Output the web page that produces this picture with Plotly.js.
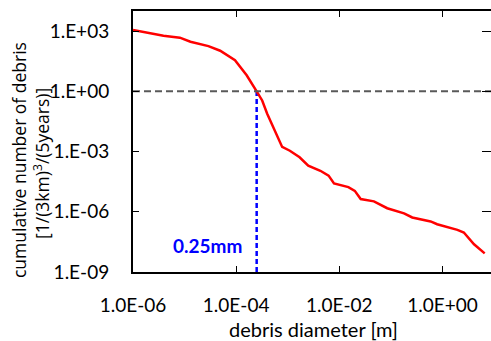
<!DOCTYPE html>
<html>
<head>
<meta charset="utf-8">
<script src="https://cdn.plot.ly/plotly-3.0.1.min.js"></script>
<style>html,body{margin:0;padding:0;overflow:hidden;background:#fff;}</style>
</head>
<body>
<div id="chart" style="width:496px;height:341px;"></div>
<script>
// debris diameter [m]
const diameter = [1.0e-6, 1.7e-6, 3.9e-6, 8.1e-6, 1.3e-5, 2.9e-5, 4.9e-5, 9.5e-5, 1.6e-4, 2.5e-4,
  3.2e-4, 4.0e-4, 6.0e-4, 7.8e-4, 1.1e-3, 1.7e-3, 2.5e-3, 4.3e-3, 6.2e-3, 7.9e-3,
  1.5e-2, 2.0e-2, 2.6e-2, 4.7e-2, 8.5e-2, 0.18, 0.26, 0.59, 0.79, 1.95, 2.6, 4.1, 6.6];
// cumulative number of debris [1/(3km)^3/(5years)]
const cumulative = [1120, 850, 590, 470, 295, 178, 105, 35, 6.3, 1.0,
  0.35, 0.076, 7.6e-3, 1.7e-3, 1.1e-3, 5.2e-4, 2.0e-4, 1.1e-4, 6.3e-5, 2.6e-5,
  1.7e-5, 1.1e-5, 4.3e-6, 3.3e-6, 1.5e-6, 8.3e-7, 5.2e-7, 3.3e-7, 2.4e-7, 1.26e-7, 9.3e-8, 2.4e-8, 8.5e-9];
const thresholdX = [1e-6, 1e1];
const thresholdY = [1, 1];
const markerX = [2.5e-4, 2.5e-4];
const markerY = [1e-9, 1];
const markerLabel = "0.25mm";
const xTickVals = [1e-6, 1e-4, 1e-2, 1e0];
const xTickText = ["1.0E-06", "1.0E-04", "1.0E-02", "1.0E+00"];
const yTickVals = [1e-9, 1e-6, 1e-3, 1e0, 1e3];
const yTickText = ["1.E-09", "1.E-06", "1.E-03", "1.E+00", "1.E+03"];
const yTitleLines = ["cumulative number of debris", "[1/(3km)<sup>3</sup>/(5years)]"];
const xTitle = "debris diameter [m]";

const FONT = "Lato, 'Open Sans', sans-serif";
const TFONT = "'Open Sans', Lato, sans-serif";

const traces = [
  {x: thresholdX, y: thresholdY, yaxis: "y2", mode: "lines", line: {color: "#595959", width: 2, dash: "7px,4px"}, hoverinfo: "skip"},
  {x: markerX, y: markerY, mode: "lines", line: {color: "#0000FF", width: 2.5, dash: "5px,3px"}, hoverinfo: "skip"},
  {x: diameter, y: cumulative, mode: "lines", line: {color: "#FF0000", width: 2.5}}
];

const axisCommon = {
  showline: true, linecolor: "#000", linewidth: 2,
  ticks: "inside", ticklen: 6, tickwidth: 1, tickcolor: "#000",
  showgrid: false, zeroline: false,
  tickfont: {family: FONT, size: 19, color: "#000"}
};

const layout = {
  width: 496, height: 341,
  margin: {l: 133, r: 1.5, t: 11, b: 69},
  paper_bgcolor: "#fff", plot_bgcolor: "#fff",
  showlegend: false,
  font: {family: FONT, color: "#000"},
  xaxis: Object.assign({}, axisCommon, {
    type: "log", range: [-6, 1], mirror: "ticks",
    tickmode: "array", tickvals: xTickVals, ticktext: xTickText,
    ticklabelstandoff: 15,
    title: {text: xTitle, font: {family: FONT, size: 20, color: "#000"}, standoff: 8}
  }),
  yaxis: Object.assign({}, axisCommon, {
    type: "log", range: [-9, 4], mirror: true,
    tickmode: "array", tickvals: yTickVals, ticktext: yTickText,
    ticklabelstandoff: 18
  }),
  yaxis2: {
    type: "log", range: [-9, 4], overlaying: "y", side: "right",
    tickmode: "array", tickvals: yTickVals, showticklabels: false,
    ticks: "inside", ticklen: 12, tickwidth: 1, tickcolor: "#000",
    showline: false, showgrid: false, zeroline: false
  },
  annotations: [
    {
      x: 0, y: 0.429, xref: "paper", yref: "paper", xanchor: "center", yanchor: "middle",
      xshift: -114, textangle: -90, showarrow: false,
      text: yTitleLines[0], font: {family: TFONT, size: 17.5, color: "#000"}
    },
    {
      x: 0, y: 0.414, xref: "paper", yref: "paper", xanchor: "center", yanchor: "middle",
      xshift: -91, textangle: -90, showarrow: false,
      text: yTitleLines[1], font: {family: TFONT, size: 17.5, color: "#000"}
    },
    {
      x: Math.log10(markerX[0]), y: -7.7, xref: "x", yref: "y",
      text: "<b>" + markerLabel + "</b>", showarrow: false, xanchor: "right",
      xshift: -13,
      font: {family: FONT, size: 19, color: "#0000FF"}
    }
  ]
};

Plotly.newPlot("chart", traces, layout, {displayModeBar: false, staticPlot: true});
</script>
</body>
</html>
